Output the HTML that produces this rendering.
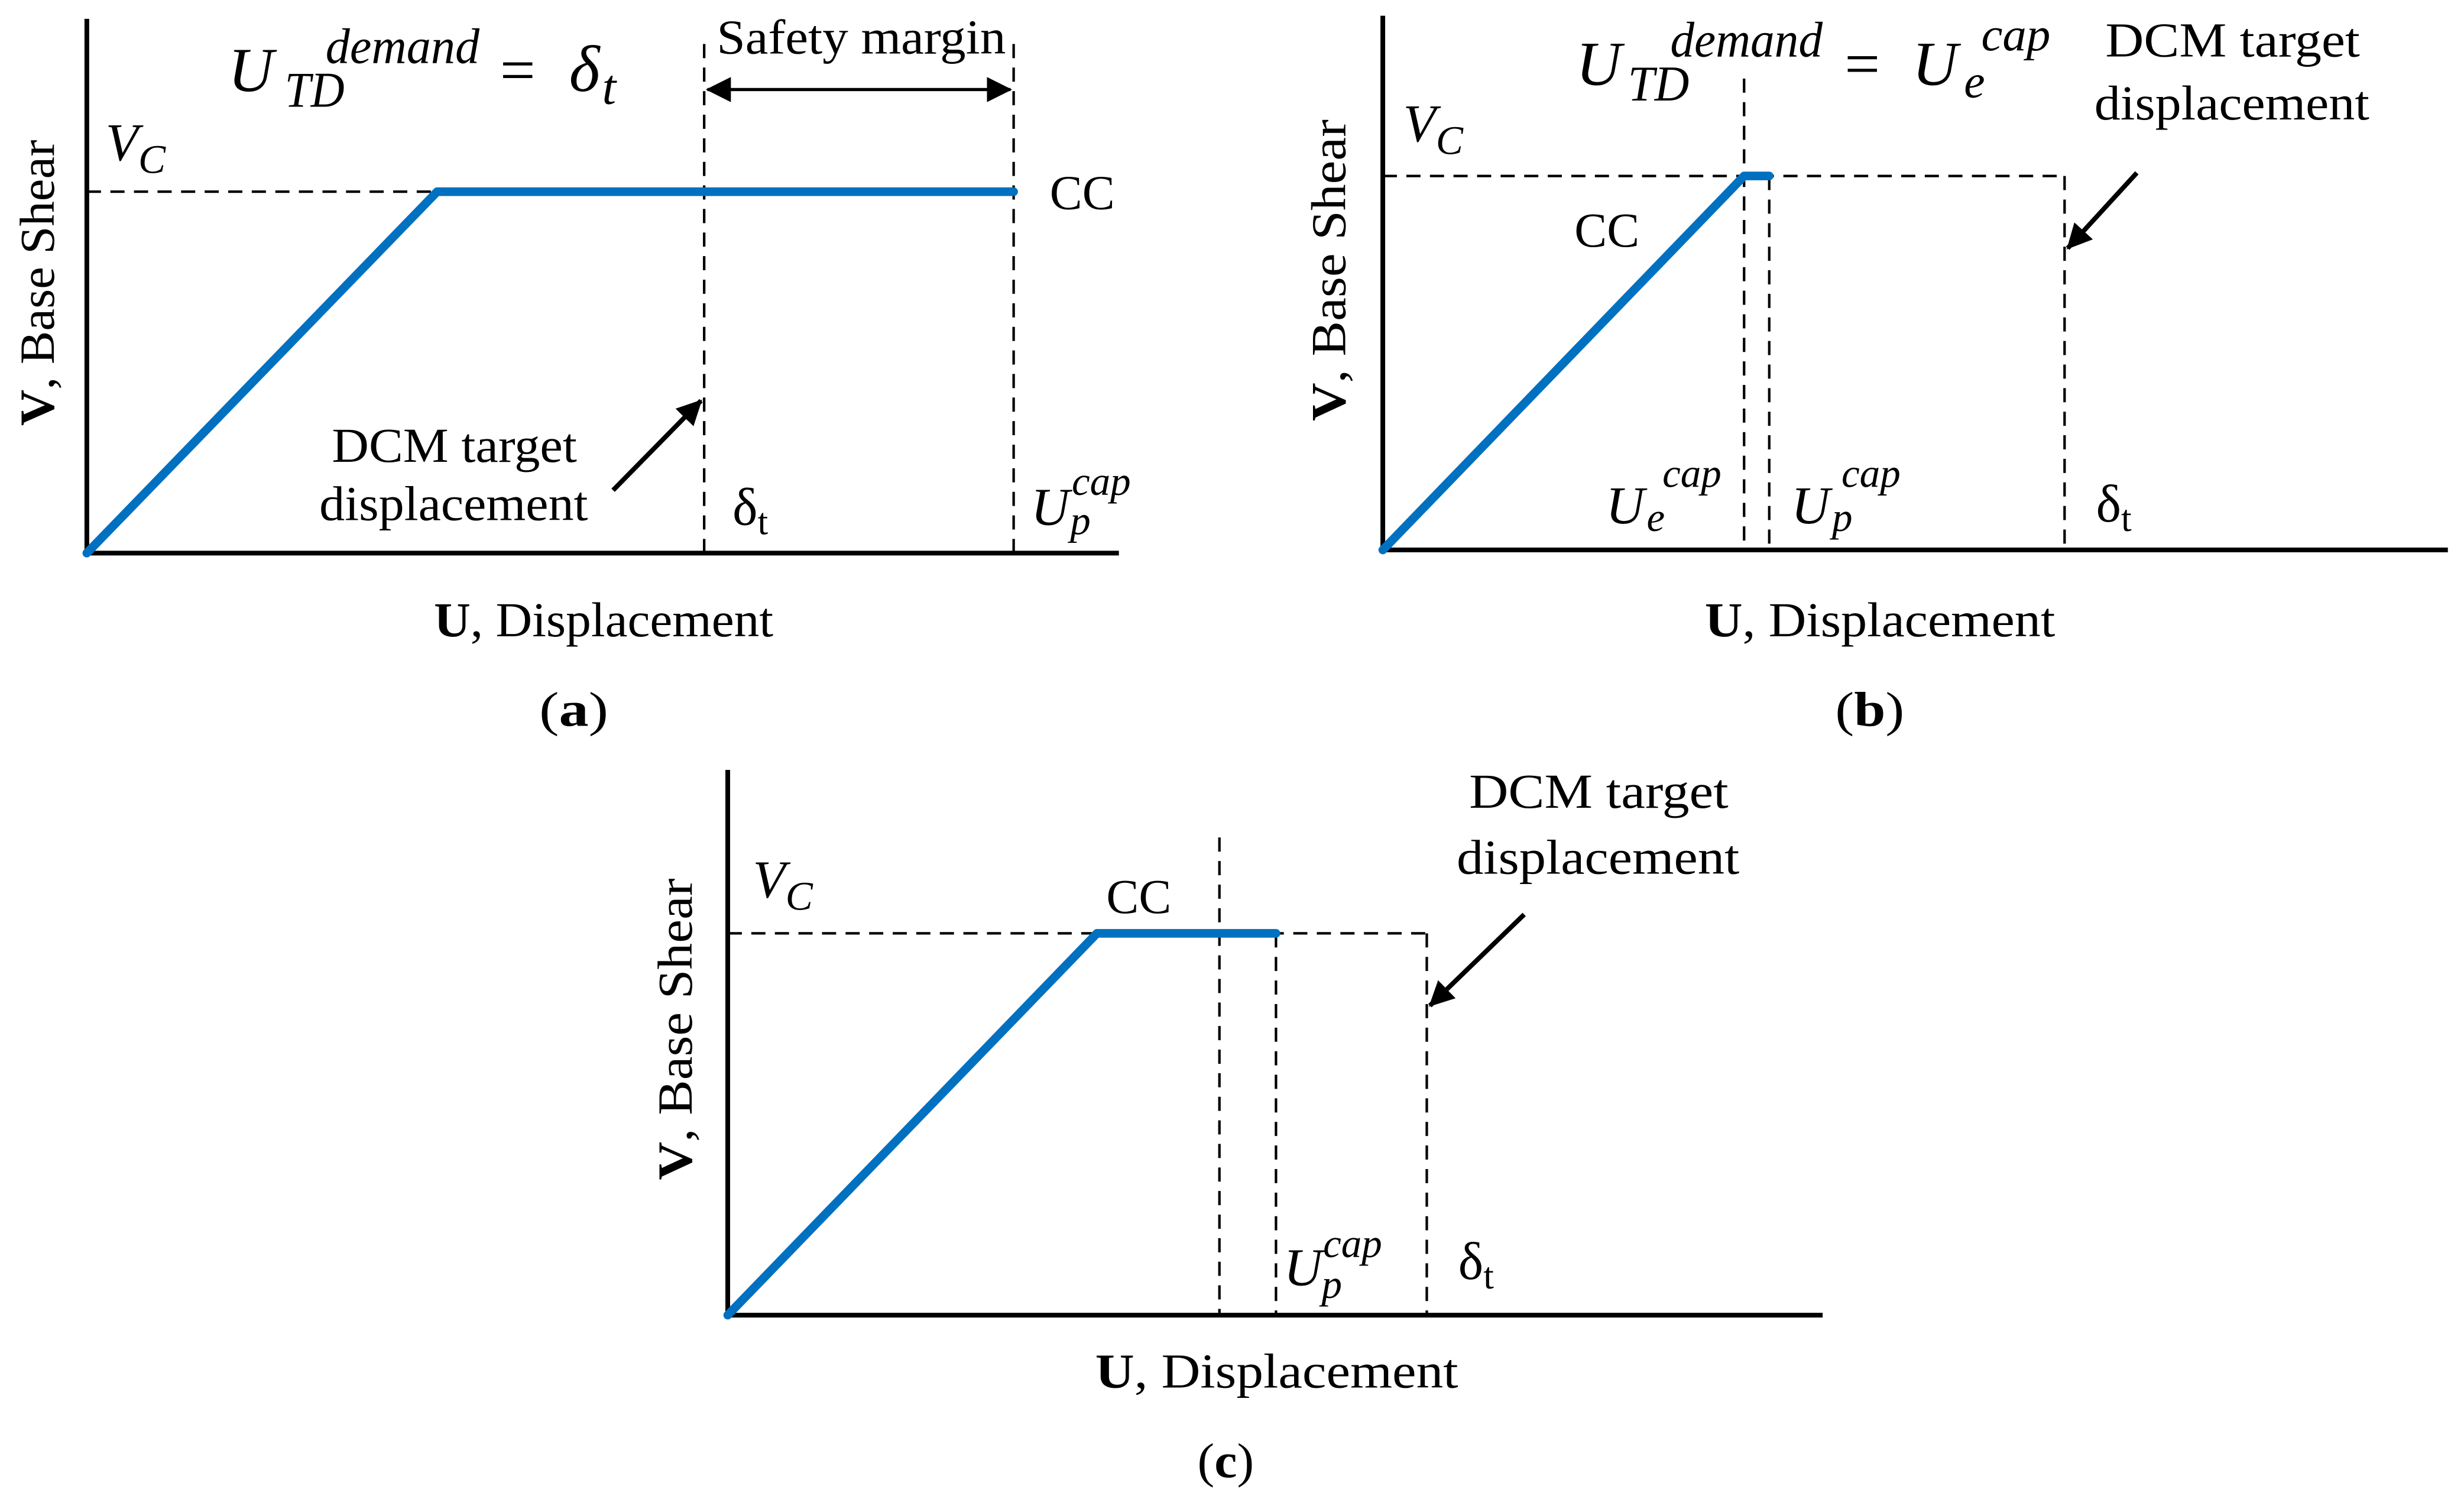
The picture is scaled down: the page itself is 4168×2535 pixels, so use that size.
<!DOCTYPE html>
<html><head><meta charset="utf-8"><style>
html,body{margin:0;padding:0;background:#fff;}
svg{display:block}
text{font-family:"Liberation Serif",serif;fill:#000}
.l{font-size:31px}
.m{font-style:italic}
</style></head><body>
<svg width="4168" height="2535" viewBox="0 0 1568 954" xmlns="http://www.w3.org/2000/svg">
<defs>
<marker id="ab" markerWidth="16" markerHeight="16" refX="15" refY="8" orient="auto" markerUnits="userSpaceOnUse" viewBox="0 0 16 16"><path d="M0,0 L16,8 L0,16 z" fill="#000"/></marker>
<marker id="as" markerWidth="16" markerHeight="16" refX="1" refY="8" orient="auto" markerUnits="userSpaceOnUse" viewBox="0 0 16 16"><path d="M16,0 L0,8 L16,16 z" fill="#000"/></marker>
</defs>
<g stroke="#000" fill="none">
<path d="M55,12 V352 H712" stroke-width="3"/>
<g stroke-width="1.6" stroke-dasharray="9,6">
<path d="M55,122 H278"/><path d="M448,28 V352"/><path d="M645,28 V352"/>
</g>
<path d="M450,57 H643" stroke-width="2" marker-start="url(#as)" marker-end="url(#ab)"/>
<path d="M390,312 L446,255" stroke-width="3" marker-end="url(#ab)"/>
<path d="M880,10 V350 H1558" stroke-width="3"/>
<g stroke-width="1.6" stroke-dasharray="9,6">
<path d="M880,112 H1314"/><path d="M1110,50 V350"/><path d="M1126,112 V350"/><path d="M1314,112 V350"/>
</g>
<path d="M1360,110 L1316,158" stroke-width="3" marker-end="url(#ab)"/>
<path d="M463,490 V837 H1160" stroke-width="3"/>
<g stroke-width="1.6" stroke-dasharray="9,6">
<path d="M463,594 H908"/><path d="M776,533 V837"/><path d="M812,594 V837"/><path d="M908,594 V837"/>
</g>
<path d="M970,582 L910,640" stroke-width="3" marker-end="url(#ab)"/>
</g>
<g stroke="#0070c0" stroke-width="5.5" fill="none" stroke-linecap="round" stroke-linejoin="round">
<path d="M55,352 L278,122 H645"/>
<path d="M880,350 L1110,112 H1126"/>
<path d="M463,837 L698,594 H812"/>
</g>
<!-- equation a -->
<text x="145" y="58" font-size="40" class="m">U</text>
<text x="207" y="40" font-size="32" class="m" textLength="98" lengthAdjust="spacingAndGlyphs">demand</text>
<text x="181" y="68" font-size="32" class="m" textLength="38" lengthAdjust="spacingAndGlyphs">TD</text>
<text x="318" y="58" font-size="40">=</text>
<text x="362" y="58" font-size="42" class="m">δ</text>
<text x="383" y="66" font-size="32" class="m">t</text>
<text x="456" y="34" class="l" textLength="184" lengthAdjust="spacingAndGlyphs">Safety margin</text>
<text x="67" y="102" font-size="34" class="m">V<tspan font-size="26" dy="8">C</tspan></text>
<text x="668" y="133" class="l">CC</text>
<text x="211" y="294" class="l" textLength="156" lengthAdjust="spacingAndGlyphs">DCM target</text>
<text x="203" y="331" class="l" textLength="171" lengthAdjust="spacingAndGlyphs">displacement</text>
<text x="466" y="334" font-size="34">δ<tspan font-size="24" dy="6">t</tspan></text>
<text x="656" y="334" font-size="34" class="m">U</text>
<text x="682" y="315" font-size="26" class="m">cap</text>
<text x="681" y="340" font-size="26" class="m">p</text>
<text transform="translate(34,180) rotate(-90)" class="l" text-anchor="middle" textLength="182" lengthAdjust="spacingAndGlyphs"><tspan font-weight="bold">V</tspan>, Base Shear</text>
<text x="276" y="405" class="l" textLength="216" lengthAdjust="spacingAndGlyphs"><tspan font-weight="bold">U</tspan>, Displacement</text>
<text x="343" y="462" class="l" textLength="44" lengthAdjust="spacingAndGlyphs">(<tspan font-weight="bold">a</tspan>)</text>
<!-- equation b -->
<text x="1003" y="54" font-size="40" class="m">U</text>
<text x="1063" y="36" font-size="32" class="m" textLength="97" lengthAdjust="spacingAndGlyphs">demand</text>
<text x="1036" y="64" font-size="32" class="m" textLength="39" lengthAdjust="spacingAndGlyphs">TD</text>
<text x="1174" y="54" font-size="40">=</text>
<text x="1217" y="54" font-size="40" class="m">U</text>
<text x="1261" y="32" font-size="30" class="m" textLength="44" lengthAdjust="spacingAndGlyphs">cap</text>
<text x="1250" y="62" font-size="30" class="m">e</text>
<text x="1340" y="36" class="l" textLength="162" lengthAdjust="spacingAndGlyphs">DCM target</text>
<text x="1333" y="76" class="l" textLength="175" lengthAdjust="spacingAndGlyphs">displacement</text>
<text x="893" y="90" font-size="34" class="m">V<tspan font-size="26" dy="8">C</tspan></text>
<text x="1002" y="157" class="l">CC</text>
<text x="1022" y="333" font-size="34" class="m">U</text>
<text x="1058" y="310" font-size="26" class="m">cap</text>
<text x="1048" y="338" font-size="26" class="m">e</text>
<text x="1140" y="333" font-size="34" class="m">U</text>
<text x="1172" y="310" font-size="26" class="m">cap</text>
<text x="1166" y="338" font-size="26" class="m">p</text>
<text x="1334" y="332" font-size="34">δ<tspan font-size="24" dy="6">t</tspan></text>
<text transform="translate(856,172) rotate(-90)" class="l" text-anchor="middle" textLength="192" lengthAdjust="spacingAndGlyphs"><tspan font-weight="bold">V</tspan>, Base Shear</text>
<text x="1085" y="405" class="l" textLength="223" lengthAdjust="spacingAndGlyphs"><tspan font-weight="bold">U</tspan>, Displacement</text>
<text x="1168" y="462" class="l" textLength="44" lengthAdjust="spacingAndGlyphs">(<tspan font-weight="bold">b</tspan>)</text>
<!-- texts c -->
<text x="935" y="514" class="l" textLength="165" lengthAdjust="spacingAndGlyphs">DCM target</text>
<text x="927" y="556" class="l" textLength="180" lengthAdjust="spacingAndGlyphs">displacement</text>
<text x="479" y="571" font-size="34" class="m">V<tspan font-size="26" dy="8">C</tspan></text>
<text x="704" y="581" class="l">CC</text>
<text x="817" y="818" font-size="34" class="m">U</text>
<text x="842" y="800" font-size="26" class="m">cap</text>
<text x="841" y="826" font-size="26" class="m">p</text>
<text x="928" y="814" font-size="34">δ<tspan font-size="24" dy="6">t</tspan></text>
<text transform="translate(440,655) rotate(-90)" class="l" text-anchor="middle" textLength="192" lengthAdjust="spacingAndGlyphs"><tspan font-weight="bold">V</tspan>, Base Shear</text>
<text x="697" y="883" class="l" textLength="231" lengthAdjust="spacingAndGlyphs"><tspan font-weight="bold">U</tspan>, Displacement</text>
<text x="762" y="940" class="l" textLength="36" lengthAdjust="spacingAndGlyphs">(<tspan font-weight="bold">c</tspan>)</text>
</svg>
</body></html>
